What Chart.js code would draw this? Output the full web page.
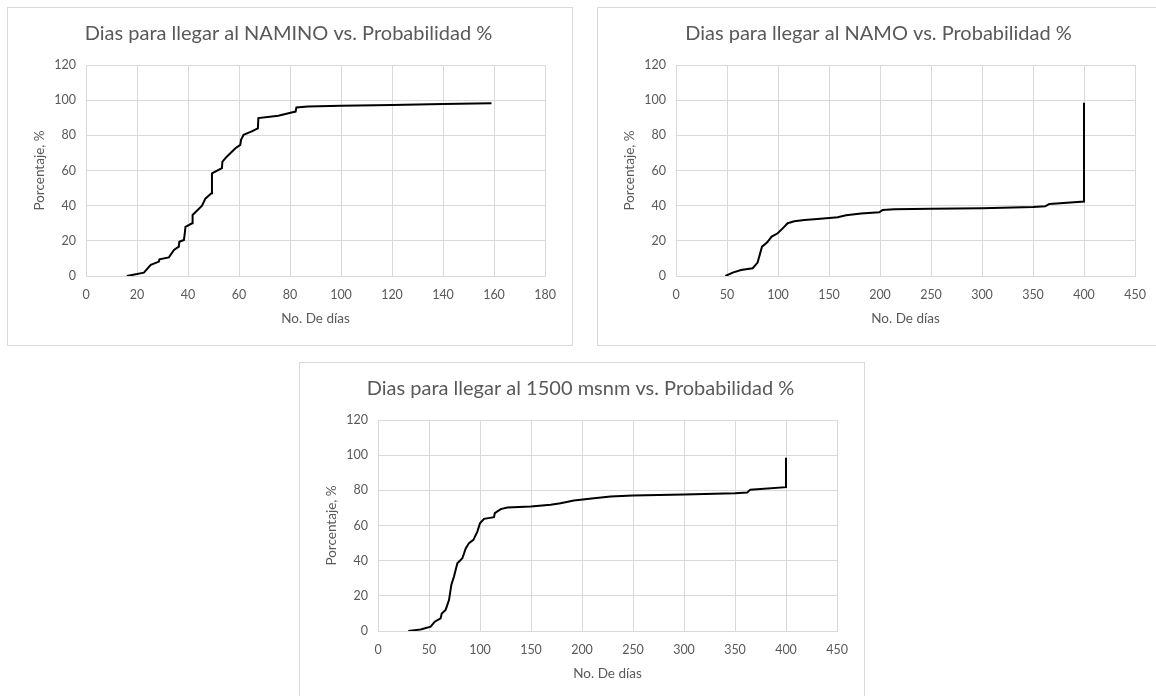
<!DOCTYPE html>
<html>
<head>
<meta charset="utf-8">
<script src="https://cdn.jsdelivr.net/npm/chart.js@4/dist/chart.umd.min.js"></script>
<style>
  body { margin: 0; background: #fff; width: 1156px; height: 696px; overflow: hidden; position: relative; }
  .caja { position: absolute; width: 566px; height: 339px; box-sizing: border-box; border: 1px solid #d9d9d9; background: #fff; }
  .caja canvas { position: absolute; left: -1px; top: -1px; }
</style>
</head>
<body>
<div class="caja" style="left:7px; top:7px;"><canvas id="chart-namino" width="566" height="339"></canvas></div>
<div class="caja" style="left:597px; top:7px;"><canvas id="chart-namo" width="566" height="339"></canvas></div>
<div class="caja" style="left:299px; top:362px; height:345px;"><canvas id="chart-1500" width="566" height="339"></canvas></div>
<script>
gris = '#595959'
rejilla = '#d9d9d9'
fuente = 'Lato, "Open Sans", sans-serif'

// NAMINO
naminoDias = [16, 22.7, 25.4, 28.6, 28.8, 32.5, 34.5, 36.4, 36.6, 38.4, 38.8, 39, 41.6, 41.8, 45.5, 46.8, 49.2, 49.4, 53.3, 53.5, 55.3, 58.6, 60.5, 60.8, 61.8, 65, 67.4, 67.6, 75.4, 80.6, 82.2, 82.5, 87, 100, 120, 140, 159]
naminoPct = [0, 1.9, 6.3, 8.2, 9.5, 10.6, 14.8, 16.7, 19.5, 20.5, 25, 28, 30, 34.7, 40, 44, 47, 58.4, 61.3, 65, 68, 72.7, 74.6, 77.4, 80.3, 82.2, 84, 89.8, 91.1, 93, 93.5, 95.8, 96.4, 96.8, 97.3, 97.8, 98.3]

// NAMO
namoDias = [48.4, 55.6, 63.7, 75.2, 80, 84.3, 89.2, 93.8, 99.7, 104.6, 109.5, 116, 125.8, 135.6, 150.3, 158.5, 166.7, 181.4, 199.3, 202.6, 214, 250, 300, 350, 362, 366, 380, 400, 400]
namoPct = [0, 1.9, 3.4, 4.4, 7.6, 16.7, 19, 22.4, 24.3, 27.1, 30, 31.1, 31.9, 32.3, 33, 33.4, 34.5, 35.5, 36.2, 37.6, 38, 38.2, 38.6, 39.2, 39.6, 41, 41.5, 42.3, 98.5]

// 1500 msnm
msnmDias = [29.7, 41.8, 51.6, 55.6, 61.4, 62.5, 66.3, 69.6, 71.9, 74.5, 77.8, 82.7, 86, 89.2, 93.5, 97.4, 100, 103.9, 113.7, 114.5, 120.3, 126.8, 149.7, 169.3, 179, 192, 211.8, 228, 250, 300, 350, 362, 365, 400, 400]
msnmPct = [0, 0.9, 2.5, 5.3, 7.2, 10, 12, 17.6, 26.2, 31, 38.5, 41.4, 47, 50, 51.8, 56.5, 61.3, 63.8, 64.7, 67, 69.3, 70.2, 70.8, 71.8, 72.7, 74.2, 75.5, 76.5, 77, 77.6, 78.3, 78.8, 80.4, 81.8, 98.5]

function puntos(xs, ys) {
    return xs.map((x, i) => ({ x: x, y: ys[i] }))
}

function plotCurva(id, titulo, dias, pct, xMax, xPaso) {
    return new Chart(document.getElementById(id), {
        type: 'scatter',
        data: {
            datasets: [{
                label: titulo,
                data: puntos(dias, pct),
                showLine: true,
                borderColor: '#000',
                borderWidth: 2,
                pointRadius: 0,
                tension: 0
            }]
        },
        options: {
            responsive: false,
            animation: false,
            layout: {
                padding: { left: 25, right: 28, top: 0, bottom: 15 }
            },
            plugins: {
                legend: { display: false },
                tooltip: { enabled: false },
                title: {
                    display: true,
                    text: titulo,
                    color: gris,
                    font: { family: fuente, size: 20, weight: 'normal' },
                    padding: { top: 15, bottom: 19 }
                }
            },
            scales: {
                x: {
                    type: 'linear',
                    min: 0,
                    max: xMax,
                    ticks: { stepSize: xPaso, color: gris, font: { family: fuente, size: 12.5 }, padding: 11, maxRotation: 0 },
                    grid: { color: rejilla, drawTicks: false },
                    border: { color: rejilla },
                    title: { display: true, text: 'No. De días', color: gris, font: { family: fuente, size: 13.5 }, padding: { top: 4, bottom: 4 } },
                    afterFit: (s) => { s.height = 55 }
                },
                y: {
                    min: 0,
                    max: 120,
                    ticks: { stepSize: 20, color: gris, font: { family: fuente, size: 12.5 }, padding: 10 },
                    grid: { color: rejilla, drawTicks: false },
                    border: { color: rejilla },
                    title: { display: true, text: 'Porcentaje, %', color: gris, font: { family: fuente, size: 13.5 }, padding: { top: 0, bottom: 4 } },
                    afterFit: (s) => { s.width = 54 }
                }
            }
        }
    })
}

plotCurva('chart-namino', 'Dias para llegar al NAMINO vs. Probabilidad %', naminoDias, naminoPct, 180, 20)
plotCurva('chart-namo', 'Dias para llegar al NAMO vs. Probabilidad %', namoDias, namoPct, 450, 50)
plotCurva('chart-1500', 'Dias para llegar al 1500 msnm vs. Probabilidad %', msnmDias, msnmPct, 450, 50)
</script>
</body>
</html>
